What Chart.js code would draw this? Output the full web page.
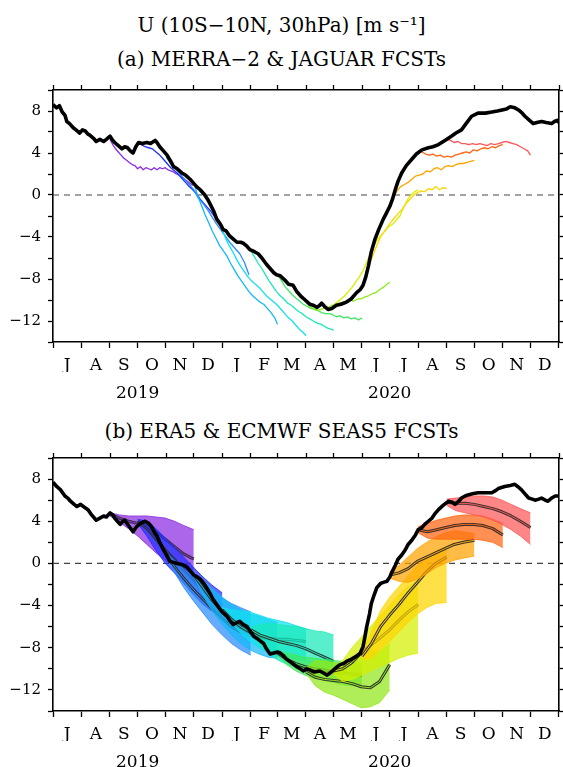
<!DOCTYPE html>
<html>
<head>
<meta charset="utf-8">
<script src="https://cdn.jsdelivr.net/npm/chart.js@4.4.1/dist/chart.umd.min.js"></script>
<style>
  html, body { margin: 0; padding: 0; background: #fff; width: 563px; height: 767px; overflow: hidden; }
  .title { position: absolute; left: 0; width: 563px; text-align: center; font-family: "DejaVu Serif", serif;
           font-size: 20px; line-height: 1; color: #000; white-space: nowrap; }
  .panel { position: absolute; left: 0; }
</style>
</head>
<body>
<div class="title" style="top:15px">U (10S−10N, 30hPa) [m s⁻¹]</div>
<div class="title" style="top:49px">(a) MERRA−2 &amp; JAGUAR FCSTs</div>
<div class="panel" style="top:75px"><canvas id="chartA" width="563" height="340"></canvas></div>
<div class="title" style="top:421px">(b) ERA5 &amp; ECMWF SEAS5 FCSTs</div>
<div class="panel" style="top:445px"><canvas id="chartB" width="563" height="330"></canvas></div>
<script>
// x is days since 1 Jul 2019
const monthStarts = [0, 31, 62, 92, 123, 153, 184, 215, 244, 275, 305, 336, 366, 397, 428, 458, 489, 519, 550];
const monthLabels = ["J", "A", "S", "O", "N", "D", "J", "F", "M", "A", "M", "J", "J", "A", "S", "O", "N", "D"];
const yearPos = [92, 366];
const yearLabels = ["2019", "2020"];
const yTicks = [-14, -12, -10, -8, -6, -4, -2, 0, 2, 4, 6, 8, 10];
const yLabelled = [-12, -8, -4, 0, 4, 8];

// MERRA-2 (panel a, black)
const merraDays = [0,4,7,10,13,15,18,22,25,29,32,35,38,40,44,47,51,55,58,62,65,67,71,75,78,81,84,87,90,93,97,102,106,111,113,116,120,124,128,131,135,140,144,149,152,156,160,165,168,171,175,178,182,185,188,192,196,200,204,207,211,214,219,223,227,232,236,240,243,247,252,256,261,265,269,274,279,283,287,290,292,295,299,303,308,313,319,324,330,334,337,340,343,346,350,354,359,362,366,369,372,375,379,384,390,395,401,408,413,419,426,433,438,444,449,455,462,470,477,483,488,493,497,502,506,510,513,518,522,526,531,536,542,545,548,550];
const merraVals = [8.6,8.3,8.5,7.9,7.6,7.0,6.8,6.4,6.2,5.9,6.2,6.1,5.8,5.7,5.4,5.1,5.3,5.1,5.3,5.6,5.2,5.0,4.7,4.4,4.6,4.5,4.2,4.0,4.6,5.0,4.9,5.0,4.9,5.2,5.0,4.6,4.2,3.8,3.2,2.7,2.5,2.1,1.9,1.5,1.2,0.8,0.5,0.0,-0.4,-0.9,-1.6,-2.3,-2.8,-3.3,-3.4,-3.9,-4.2,-4.5,-4.5,-4.6,-4.9,-5.2,-5.4,-5.6,-6.0,-6.6,-7.0,-7.4,-7.6,-7.7,-8.1,-8.5,-8.6,-9.2,-9.6,-10.0,-10.4,-10.5,-10.7,-10.5,-10.3,-10.6,-10.9,-10.8,-10.5,-10.4,-10.2,-9.9,-9.3,-9.0,-8.6,-7.8,-6.7,-5.4,-4.2,-3.3,-2.3,-1.8,-1.1,-0.4,0.5,1.3,2.1,2.8,3.4,3.9,4.3,4.5,4.6,4.8,5.2,5.6,5.9,6.2,6.8,7.5,7.8,7.8,7.9,8.0,8.1,8.2,8.4,8.3,8.1,7.8,7.5,7.1,6.8,6.9,7.0,6.9,6.8,7.0,7.1,6.9];

// JAGUAR forecasts (panel a)
const jagSepDays = [62,65,68,71,74,77,80,83,86,89,92,95,98,101,104,107,110,113,116,119,122,125,128,131,134,137,140,143,146,149,152];
const jagSep = [5.3,4.8,4.4,4.1,3.8,3.5,3.3,3.1,2.9,2.8,2.5,2.7,2.4,2.6,2.5,2.4,2.6,2.4,2.6,2.5,2.6,2.4,2.3,2.2,2.0,1.9,1.7,1.5,1.3,1.1,0.9];
const jagOctDays = [92,96,100,104,108,112,116,120,124,128,132,136,140,144,148,152,156,160,164,168,172,176,180];
const jagOct = [4.9,4.8,4.6,4.5,4.4,4.1,3.8,3.4,3.0,2.6,2.3,2.0,1.6,1.2,0.8,0.5,0.1,-0.4,-0.8,-1.2,-1.6,-2.1,-2.6];
const jagNovDays = [123,128,133,138,143,148,153,158,163,168,173,178,183,188,193,198,203,208,213];
const jagNov = [3.6,3.0,2.5,2.0,1.5,1.0,0.5,-0.3,-0.8,-1.4,-2.1,-2.8,-3.4,-4.0,-4.6,-5.1,-5.6,-6.4,-7.6];
const jagDecDays = [153,157,161,165,169,173,177,181,185,189,193,197,201,205,209,213,217,221,225,229,233,237,241,244];
const jagDec = [1.2,0.0,-0.9,-1.8,-2.6,-3.4,-4.1,-4.8,-5.3,-5.8,-6.5,-7.1,-7.7,-8.2,-8.7,-9.2,-9.6,-9.9,-10.2,-10.4,-10.8,-11.2,-11.7,-12.3];
const jagJanDays = [184,188,192,196,200,204,208,212,216,220,224,228,232,236,240,244,248,252,256,260,264,268,272,275];
const jagJan = [-3.3,-4.2,-4.9,-5.5,-6.2,-6.8,-7.3,-7.8,-8.2,-8.5,-8.8,-9.2,-9.6,-9.9,-10.2,-10.5,-10.9,-11.3,-11.7,-12.0,-12.4,-12.8,-13.1,-13.4];
const jagFebDays = [215,219,223,227,231,235,239,243,247,251,255,259,263,267,271,275,279,283,287,291,295,299,303,305];
const jagFeb = [-5.3,-5.9,-6.5,-7.0,-7.6,-8.2,-8.7,-9.2,-9.6,-9.9,-10.3,-10.5,-10.8,-11.1,-11.3,-11.6,-11.8,-12.0,-12.2,-12.3,-12.5,-12.7,-12.8,-12.9];
const jagMarDays = [244,248,252,256,260,264,268,272,276,280,284,288,292,296,300,304,308,312,316,320,324,328,332,336];
const jagMar = [-7.6,-8.1,-8.7,-9.1,-9.5,-9.8,-10.1,-10.4,-10.6,-10.8,-10.9,-11.0,-11.2,-11.3,-11.3,-11.4,-11.6,-11.5,-11.7,-11.6,-11.8,-11.7,-11.9,-11.7];
const jagAprDays = [275,279,283,287,291,295,299,303,307,311,315,319,323,327,331,335,339,343,347,351,355,359,363,366];
const jagApr = [-10.2,-10.6,-10.8,-11.0,-10.9,-10.8,-10.7,-10.5,-10.5,-10.3,-10.2,-10.2,-10.0,-10.1,-9.9,-9.9,-9.7,-9.6,-9.4,-9.3,-9.0,-8.8,-8.5,-8.3];
const jagMayDays = [305,309,313,317,321,325,329,333,337,341,345,349,353,357,361,365,369,373,377,381,385,389,393,397];
const jagMay = [-10.5,-10.2,-9.9,-9.6,-9.2,-8.8,-8.3,-7.8,-7.2,-6.4,-5.6,-4.8,-4.2,-3.8,-3.4,-3.0,-2.8,-2.4,-2.0,-1.2,-0.5,0.0,0.3,0.5];
const jagJunDays = [336,340,344,348,352,356,360,364,368,372,376,380,384,388,392,396,400,404,408,412,416,420,424,428];
const jagJun = [-8.6,-7.6,-6.6,-5.7,-4.8,-4.0,-3.5,-3.0,-2.5,-2.1,-1.7,-1.3,-0.8,-0.4,0.0,0.2,0.4,0.3,0.6,0.5,0.8,0.5,0.7,0.6];
const jagJulDays = [366,370,374,378,382,386,390,394,398,402,406,410,414,418,422,426,430,434,438,442,446,450,454,458];
const jagJul = [-1.0,-0.2,0.4,0.8,1.0,1.2,1.5,1.8,1.9,2.0,2.3,2.2,2.5,2.6,2.4,2.7,2.8,2.7,2.9,3.0,3.0,3.1,3.2,3.3];
const jagAugDays = [397,401,405,409,413,417,421,425,429,433,437,441,445,449,453,457,461,465,469,473,477,481,485,489];
const jagAug = [4.2,4.1,3.9,3.8,3.9,3.7,3.8,3.6,3.7,3.6,3.8,3.9,4.0,4.1,4.0,4.3,4.2,4.4,4.5,4.4,4.6,4.5,4.7,4.8];
const jagSep2Days = [428,432,436,440,444,448,452,456,460,464,468,472,476,480,484,488,492,496,500,504,508,512,516,519];
const jagSep2 = [5.3,5.2,5.0,5.1,4.9,4.9,4.8,4.9,4.8,4.9,4.8,4.7,4.9,4.8,4.9,5.0,5.1,5.0,4.9,4.8,4.6,4.4,4.2,3.8];

// ERA5 (panel b, black)
const eraDays = [0,4,8,13,16,19,23,26,30,33,38,42,47,51,55,58,62,65,67,70,73,76,78,82,87,91,95,100,104,107,110,113,116,120,124,127,131,135,140,145,149,153,157,160,164,167,171,174,178,182,185,189,192,196,200,203,207,211,214,218,223,229,232,236,240,244,247,251,254,259,265,269,272,276,279,284,290,294,298,301,305,309,312,316,319,324,330,334,337,339,341,344,346,349,352,356,359,363,366,368,372,375,379,383,386,390,394,397,401,404,408,412,415,419,424,430,434,437,441,444,448,451,456,462,470,477,481,484,491,497,502,505,509,513,517,521,524,528,531,535,538,542,546,550];
const eraVals = [7.7,7.3,7.0,6.4,6.2,5.9,5.6,5.4,5.6,5.4,5.1,4.6,4.1,4.3,4.5,4.4,4.8,4.6,4.3,4.0,3.7,4.0,4.1,3.6,3.0,3.5,3.8,4.0,3.8,3.5,3.0,2.6,2.0,1.3,0.7,0.2,0.1,0.0,-0.1,-0.3,-0.7,-1.1,-1.3,-1.5,-1.9,-2.3,-2.9,-3.4,-3.9,-4.4,-4.7,-5.0,-5.4,-5.8,-5.6,-5.5,-5.8,-6.0,-6.4,-6.9,-7.2,-7.6,-8.1,-8.6,-8.5,-8.4,-8.5,-8.8,-9.1,-9.4,-9.8,-10.0,-10.2,-10.0,-10.1,-10.3,-10.2,-10.4,-10.6,-10.4,-10.1,-9.8,-9.6,-9.5,-9.3,-9.1,-8.8,-8.5,-7.9,-7.0,-6.0,-4.8,-3.8,-3.0,-2.3,-1.9,-1.8,-1.7,-1.3,-0.9,-0.2,0.4,0.8,1.3,1.8,2.2,2.7,3.2,3.4,3.7,4.0,4.3,4.7,5.1,5.5,5.9,5.8,5.6,5.9,6.2,6.4,6.5,6.6,6.7,6.7,6.7,6.9,7.1,7.3,7.4,7.5,7.3,7.0,6.6,6.2,6.1,6.0,6.1,6.2,6.0,5.9,6.2,6.4,6.4];

// SEAS5 ensembles (panel b): mean, upper and lower envelope
const seasSepDays = [62,72,82,92,102,112,122,132,142,153];
const seasSepMean = [4.7,4.3,4.0,3.8,3.5,3.0,2.3,1.6,0.9,0.4];
const seasSepHi = [4.8,4.6,4.5,4.5,4.5,4.4,4.3,4.0,3.6,3.2];
const seasSepLo = [4.5,3.9,3.3,2.6,1.8,1.0,0.3,-0.3,-0.6,-0.6];
const seasOctDays = [92,102,112,122,132,142,152,162,172,184];
const seasOctMean = [4.0,3.3,2.3,1.3,0.4,-0.6,-1.5,-2.4,-3.2,-4.0];
const seasOctHi = [4.2,4.0,3.3,2.4,1.5,0.6,-0.3,-1.2,-2.0,-2.8];
const seasOctLo = [3.8,2.6,1.2,0.0,-0.9,-1.9,-2.9,-3.8,-4.5,-5.1];
const seasNovDays = [123,133,143,153,163,173,184,194,204,215];
const seasNovMean = [0.8,-0.4,-1.5,-2.5,-3.4,-4.3,-5.2,-6.0,-6.5,-6.9];
const seasNovHi = [1.0,0.2,-0.6,-1.3,-2.0,-2.7,-3.3,-3.8,-4.2,-4.6];
const seasNovLo = [0.6,-1.0,-2.4,-3.6,-4.7,-5.8,-6.8,-7.6,-8.2,-8.7];
const seasDecDays = [153,163,173,184,194,204,214,224,234,244];
const seasDecMean = [-1.1,-2.3,-3.5,-4.6,-5.5,-6.1,-6.6,-7.0,-7.2,-7.3];
const seasDecHi = [-0.9,-1.6,-2.4,-3.2,-3.9,-4.4,-4.8,-5.0,-5.3,-5.6];
const seasDecLo = [-1.3,-3.0,-4.5,-5.8,-6.8,-7.6,-8.2,-8.6,-8.9,-9.0];
const seasJanDays = [184,194,204,214,224,234,244,254,264,275];
const seasJanMean = [-4.4,-5.3,-6.0,-6.5,-6.9,-7.1,-7.2,-7.2,-7.3,-7.4];
const seasJanHi = [-4.2,-4.4,-4.5,-4.6,-4.9,-5.2,-5.4,-5.6,-5.9,-6.2];
const seasJanLo = [-4.6,-5.6,-6.6,-7.4,-8.0,-8.5,-8.8,-9.0,-9.1,-9.2];
const seasFebDays = [215,225,235,245,255,265,275,285,295,305];
const seasFebMean = [-6.3,-6.8,-7.1,-7.4,-7.6,-7.8,-8.1,-8.5,-8.9,-9.3];
const seasFebHi = [-6.0,-5.8,-5.7,-5.8,-5.9,-6.0,-6.2,-6.4,-6.5,-6.8];
const seasFebLo = [-6.5,-7.8,-8.6,-9.2,-9.6,-9.8,-9.9,-10.0,-9.9,-9.8];
const seasMarDays = [244,254,264,274,284,294,305,315,325,336];
const seasMarMean = [-8.5,-9.1,-9.5,-9.8,-10.0,-10.1,-10.3,-10.4,-10.5,-10.6];
const seasMarHi = [-8.3,-8.5,-8.7,-8.9,-9.0,-9.1,-9.2,-9.3,-9.3,-9.5];
const seasMarLo = [-8.7,-9.6,-10.2,-10.6,-10.9,-11.1,-11.3,-11.5,-11.6,-11.7];
const seasAprDays = [275,285,295,305,315,325,335,345,355,366];
const seasAprMean = [-10.3,-10.8,-11.0,-11.1,-11.2,-11.4,-11.7,-11.8,-11.2,-9.6];
const seasAprHi = [-9.9,-9.2,-9.3,-9.4,-9.5,-9.2,-8.6,-8.2,-8.4,-7.6];
const seasAprLo = [-10.4,-11.6,-12.2,-12.5,-12.9,-13.3,-13.7,-13.6,-13.2,-12.0];
const seasMayDays = [305,315,325,335,345,355,366,376,386,397];
const seasMayMean = [-10.2,-10.0,-9.4,-8.5,-7.8,-7.1,-6.3,-5.4,-4.6,-3.9];
const seasMayHi = [-9.9,-9.2,-8.0,-7.0,-6.0,-5.0,-4.0,-3.0,-2.2,-1.6];
const seasMayLo = [-10.5,-11.2,-11.0,-10.6,-10.2,-9.8,-9.4,-9.0,-8.7,-8.5];
const seasJunDays = [336,346,356,366,376,386,396,406,416,428];
const seasJunMean = [-8.8,-7.6,-6.0,-4.9,-3.9,-2.8,-1.8,-0.8,0.0,0.6];
const seasJunHi = [-8.5,-6.5,-4.5,-3.2,-2.2,-1.2,-0.2,0.6,1.2,1.6];
const seasJunLo = [-9.1,-9.0,-8.2,-7.4,-6.5,-5.6,-4.8,-4.2,-3.8,-3.7];
const seasJulDays = [366,376,386,396,406,416,426,436,446,458];
const seasJulMean = [-1.1,-0.9,-0.5,0.2,0.6,1.0,1.4,1.8,2.0,2.2];
const seasJulHi = [-0.8,-0.2,0.6,1.4,2.0,2.5,2.9,3.1,3.0,2.8];
const seasJulLo = [-1.4,-1.7,-1.8,-1.5,-1.0,-0.4,0.0,0.3,0.5,0.7];
const seasAugDays = [397,407,417,427,437,447,457,467,478,489];
const seasAugMean = [3.2,3.0,3.2,3.4,3.6,3.7,3.7,3.6,3.3,2.7];
const seasAugHi = [3.5,3.8,4.1,4.3,4.5,4.6,4.6,4.5,4.2,3.8];
const seasAugLo = [2.9,2.4,2.3,2.3,2.3,2.3,2.3,2.2,2.0,1.5];
const seasSep2Days = [428,438,448,458,468,478,488,498,508,519];
const seasSep2Mean = [5.8,5.7,5.7,5.6,5.4,5.2,4.9,4.5,4.0,3.4];
const seasSep2Hi = [6.1,6.2,6.3,6.4,6.4,6.3,6.0,5.6,5.2,4.8];
const seasSep2Lo = [5.5,5.0,4.8,4.6,4.4,4.1,3.7,3.2,2.6,1.8];

const initColors = ["#8c2be0", "#2030ff", "#2a8cff", "#14b8f8", "#10e0ee", "#18eab8", "#40e860",
                    "#90e818", "#d4f000", "#ffd400", "#ffa400", "#ff6410", "#ff5858"];

const FONT = '"DejaVu Serif", serif';

const pts = (xs, ys) => xs.map((x, i) => ({ x: x, y: ys[i] }));

function rgba(hex, a) {
  const n = parseInt(hex.slice(1), 16);
  return `rgba(${n >> 16}, ${(n >> 8) & 255}, ${n & 255}, ${a})`;
}

function minus(v) {
  return v < 0 ? "\u2212" + Math.abs(v) : String(v);
}

const zeroLine = {
  data: [{ x: 0, y: 0 }, { x: 550, y: 0 }],
  borderColor: "#444",
  borderWidth: 1.2,
  borderDash: [6, 5],
  order: 9999,
};

function makeScales(topH, yearH) {
  const tickStyle = { drawOnChartArea: false, color: "#000", tickColor: "#000", tickWidth: 1.3 };
  const border = { color: "#000", width: 1.6 };
  return {
    x: {
      type: "linear", position: "bottom", min: 0, max: 550, weight: 0,
      afterBuildTicks: (s) => {
        s.ticks = monthStarts.slice(0, -1).map((d, i) => ({ value: (d + monthStarts[i + 1]) / 2 }));
      },
      afterFit: (s) => { s.height = 30; s.paddingLeft = 0; s.paddingRight = 0; },
      ticks: { autoSkip: false, maxRotation: 0, padding: 7, color: "#000",
               font: { family: FONT, size: 17 }, callback: (v, i) => monthLabels[i] },
      grid: Object.assign({ offset: true, tickLength: 6 }, tickStyle),
      border: border,
    },
    xYear: {
      type: "linear", position: "bottom", min: 0, max: 550, weight: 1,
      afterBuildTicks: (s) => { s.ticks = yearPos.map((d) => ({ value: d })); },
      afterFit: (s) => { s.height = yearH; s.paddingLeft = 0; s.paddingRight = 0; },
      ticks: { autoSkip: false, maxRotation: 0, padding: 3, color: "#000",
               font: { family: FONT, size: 17 }, callback: (v, i) => yearLabels[i] },
      grid: { display: false },
      border: { display: false },
    },
    xTop: {
      type: "linear", position: "top", min: 0, max: 550,
      afterBuildTicks: (s) => { s.ticks = monthStarts.map((d) => ({ value: d })); },
      afterFit: (s) => { s.height = topH; s.paddingLeft = 0; s.paddingRight = 0; },
      ticks: { display: false },
      grid: Object.assign({ tickLength: 5 }, tickStyle),
      border: border,
    },
    y: {
      type: "linear", position: "left", min: -14, max: 10,
      afterBuildTicks: (s) => { s.ticks = yTicks.map((v) => ({ value: v })); },
      afterFit: (s) => { s.width = 53; s.paddingTop = 0; s.paddingBottom = 0; },
      ticks: { autoSkip: false, padding: 7, color: "#000", font: { family: FONT, size: 15 },
               callback: (v) => (yLabelled.includes(v) ? minus(v) : "") },
      grid: Object.assign({ tickLength: 5 }, tickStyle),
      border: border,
    },
    yRight: {
      type: "linear", position: "right", min: -14, max: 10,
      afterBuildTicks: (s) => { s.ticks = yTicks.map((v) => ({ value: v })); },
      afterFit: (s) => { s.width = 4; s.paddingTop = 0; s.paddingBottom = 0; },
      ticks: { display: false, autoSkip: false },
      grid: Object.assign({ tickLength: 4 }, tickStyle),
      border: border,
    },
  };
}

function baseOptions(topH, yearH) {
  return {
    animation: false,
    responsive: false,
    events: [],
    layout: { padding: 0 },
    plugins: { legend: { display: false }, tooltip: { enabled: false } },
    elements: { point: { radius: 0 }, line: { tension: 0, fill: false, borderJoinStyle: "round" } },
    scales: makeScales(topH, yearH),
  };
}

// panel a
const jaguar = [
  [jagSepDays, jagSep], [jagOctDays, jagOct], [jagNovDays, jagNov], [jagDecDays, jagDec],
  [jagJanDays, jagJan], [jagFebDays, jagFeb], [jagMarDays, jagMar], [jagAprDays, jagApr],
  [jagMayDays, jagMay], [jagJunDays, jagJun], [jagJulDays, jagJul], [jagAugDays, jagAug],
  [jagSep2Days, jagSep2],
];

const setsA = [
  { data: pts(merraDays, merraVals), borderColor: "#000", borderWidth: 3.6, order: 0 },
  zeroLine,
];
jaguar.forEach(([d, v], k) => {
  setsA.push({ data: pts(d, v), borderColor: initColors[k], borderWidth: 1.3, order: 100 - k });
});

new Chart(document.getElementById("chartA"), {
  type: "line",
  data: { datasets: setsA },
  options: baseOptions(15, 43),
});

// panel b
const seas5 = [
  [seasSepDays, seasSepMean, seasSepHi, seasSepLo],
  [seasOctDays, seasOctMean, seasOctHi, seasOctLo],
  [seasNovDays, seasNovMean, seasNovHi, seasNovLo],
  [seasDecDays, seasDecMean, seasDecHi, seasDecLo],
  [seasJanDays, seasJanMean, seasJanHi, seasJanLo],
  [seasFebDays, seasFebMean, seasFebHi, seasFebLo],
  [seasMarDays, seasMarMean, seasMarHi, seasMarLo],
  [seasAprDays, seasAprMean, seasAprHi, seasAprLo],
  [seasMayDays, seasMayMean, seasMayHi, seasMayLo],
  [seasJunDays, seasJunMean, seasJunHi, seasJunLo],
  [seasJulDays, seasJulMean, seasJulHi, seasJulLo],
  [seasAugDays, seasAugMean, seasAugHi, seasAugLo],
  [seasSep2Days, seasSep2Mean, seasSep2Hi, seasSep2Lo],
];

const setsB = [
  { data: pts(eraDays, eraVals), borderColor: "#000", borderWidth: 3.6, order: 0 },
  zeroLine,
];
seas5.forEach(([d, mean, hi, lo], k) => {
  const c = initColors[k];
  const base = 900 - k * 10;
  setsB.push({ data: pts(d, lo), borderColor: c, borderWidth: 0.8, order: base });
  setsB.push({ data: pts(d, hi), borderColor: c, borderWidth: 0.8, backgroundColor: rgba(c, 0.72),
               fill: "-1", order: base });
  setsB.push({ data: pts(d, mean), borderColor: "#333", borderWidth: 3, order: base - 1 });
  setsB.push({ data: pts(d, mean), borderColor: c, borderWidth: 1, order: base - 2 });
});

new Chart(document.getElementById("chartB"), {
  type: "line",
  data: { datasets: setsB },
  options: baseOptions(13, 34),
});
</script>
</body>
</html>
